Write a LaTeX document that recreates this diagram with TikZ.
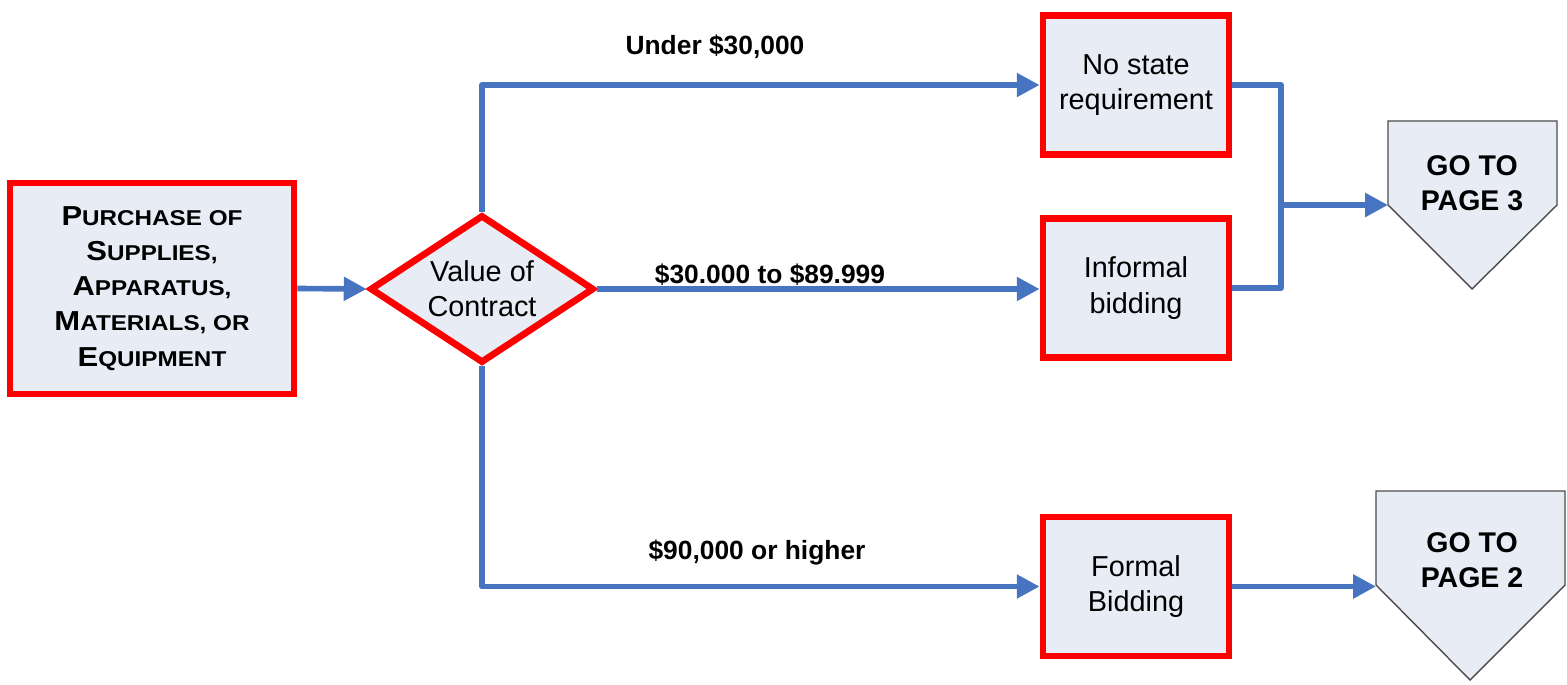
\documentclass[tikz,border=0pt]{standalone}
\usepackage{fontspec}
\setmainfont{Liberation Sans}
\newfontfamily\scfont{Liberation Sans}[FakeStretch=1.13]
\usetikzlibrary{arrows.meta,shapes.geometric}
\definecolor{boxfill}{RGB}{232,236,245}
\definecolor{flowblue}{RGB}{71,116,193}
\definecolor{boxred}{RGB}{255,0,0}
\def\fsc#1#2{{\scfont\bfseries\fontsize{7.8}{10}\selectfont #1}{\scfont\bfseries\fontsize{6.1}{10}\selectfont #2}}
\tikzset{
	stepbox/.style={draw=boxred, line width=1.9pt, fill=boxfill, align=center,
		minimum width=1.86cm, minimum height=1.39cm, inner sep=0pt,
		font=\fontsize{8.2}{10}\selectfont},
	link/.style={draw=flowblue, line width=1.6pt, line join=round},
	flow/.style={link, -{Triangle[length=6.5pt,width=6.5pt]}},
	cond/.style={font=\bfseries\fontsize{7.5}{9}\selectfont, inner sep=0pt},
	pageref/.style={draw=black!70, line width=0.4pt, fill=boxfill},
}

\begin{document}
\begin{tikzpicture}[x=0.01cm, y=-0.01cm]
			%%%%% START %%%%%
			
			\useasboundingbox (0, 0) rectangle (1567, 685);
			
			\node[stepbox, minimum width=2.84cm, minimum height=2.11cm] (purchase) at (152, 288.5)
				{\fsc{P}{URCHASE OF}\\\fsc{S}{UPPLIES,}\\\fsc{A}{PPARATUS,}\\\fsc{M}{ATERIALS, OR}\\\fsc{E}{QUIPMENT}};
			\node[stepbox, shape=diamond, aspect=1.5, minimum width=2.24cm, minimum height=1.48cm] (value) at (482, 289) {Value of\\Contract};
			
			\node[stepbox] (nostate) at (1136, 85) {No state\\requirement};
			\node[stepbox] (informal) at (1136, 288) {Informal\\bidding};
			\node[stepbox] (formal) at (1136, 586.5) {Formal\\Bidding};
			
			\draw[pageref] (1388, 121) -- (1557, 121) -- (1557, 205) -- (1472, 289) -- (1388, 205) -- cycle;
			\node[font=\bfseries\fontsize{8.1}{10}\selectfont, align=center] (page3) at (1472, 183) {GO TO\\PAGE 3};
			\coordinate (page3in) at (1388, 205);
			
			\draw[pageref] (1376, 491) -- (1565, 491) -- (1565, 585) -- (1470, 680) -- (1376, 585) -- cycle;
			\node[font=\bfseries\fontsize{8.1}{10}\selectfont, align=center] (page2) at (1472, 560) {GO TO\\PAGE 2};
			\coordinate (page2in) at (1376, 586.5);
			
			\coordinate (join) at (1281, 205);
			
			\draw[flow] (purchase.east) -- (value.west);
			\draw[flow] (value.north) |- (nostate.west);
			\draw[flow] (value.east) -- (value.east -| informal.west);
			\draw[flow] (value.south) |- (formal.west);
			\draw[link] (nostate.east) -| (join) |- (informal.east);
			\draw[flow] (join) -- (page3in);
			\draw[flow] (formal.east) -- (page2in);
			
			\node[cond] (under) at (715, 47) {Under \$30,000};
			\node[cond] (middle) at (770, 275) {\$30.000 to \$89.999};
			\node[cond] (over) at (757, 553) {\$90,000 or higher};
			
			%%%%% END %%%%%
		\end{tikzpicture}
\end{document}
